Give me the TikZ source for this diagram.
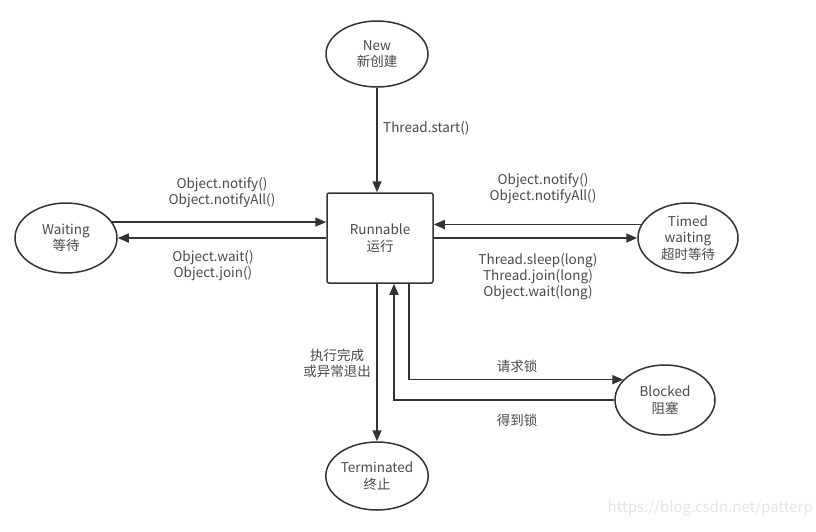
\documentclass[tikz,border=0pt]{standalone}
\usepackage{fontspec}
\setmainfont{Noto Sans CJK SC}
\usetikzlibrary{shapes.geometric,arrows.meta}
\definecolor{ln}{HTML}{333333}
\definecolor{tx}{HTML}{4A4A4A}
\tikzset{
  st/.style={ellipse,draw=ln,line width=1.5pt,inner sep=0pt,align=center,text=tx,font=\fontsize{13.5}{16.5}\selectfont},
  box/.style={rectangle,draw=ln,line width=1.5pt,rounded corners=2pt,inner sep=0pt,align=center,text=tx,font=\fontsize{13.5}{16.5}\selectfont},
  arr/.style={draw=ln,line width=1.6pt,-{Triangle[length=11pt,width=9pt]}},
  lab/.style={text=tx,align=center,inner sep=0pt,font=\fontsize{13.5}{16}\selectfont}
}
\begin{document}
\begin{tikzpicture}[x=1pt,y=-1pt]
\useasboundingbox[fill=white] (0,0) rectangle (816,531);
\node[st,minimum width=102pt,minimum height=66pt] (new) at (377,54) {New\\新创建};
\node[box,minimum width=106pt,minimum height=90pt] (run) at (380,238) {Runnable\\运行};
\node[st,minimum width=102pt,minimum height=70pt] (wait) at (66,238) {Waiting\\等待};
\node[st,minimum width=100pt,minimum height=70pt] (tw) at (688,238) {Timed\\waiting\\超时等待};
\node[st,minimum width=100pt,minimum height=68pt] (term) at (377,476) {Terminated\\终止};
\node[st,minimum width=100pt,minimum height=70pt] (blk) at (665,400) {Blocked\\阻塞};

\draw[arr] (new.south) -- (new.south |- run.north);
\draw[arr] (wait.19.43) -- (wait.19.43 -| run.west);
\draw[arr] (run.west) -- (wait.east);
\draw[arr] (tw.164.36) -- (tw.164.36 -| run.east);
\draw[arr] (run.east) -- (tw.west);
\draw[arr] (term.north |- run.south) -- (term.north);
\draw[arr] ([xshift=29pt]run.south) |- (blk.154.01);
\draw[arr] (blk.west) -| ([xshift=14pt]run.south);

\node[lab,anchor=west] (l1) at (383,128) {Thread.start()};
\node[lab] (l2) at (222,193) {Object.notify()\\Object.notifyAll()};
\node[lab] (l3) at (213,266) {Object.wait()\\Object.join()};
\node[lab] (l4) at (543,189) {Object.notify()\\Object.notifyAll()};
\node[lab] (l5) at (538,277) {Thread.sleep(long)\\Thread.join(long)\\Object.wait(long)};
\node[lab] (l6) at (337,363) {执行完成\\或异常退出};
\node[lab] (l7) at (517,366) {请求锁};
\node[lab] (l8) at (517,420) {得到锁};
\node[anchor=east,text=black!10,inner sep=0pt,font=\fontsize{15}{18}\selectfont] (wm) at (813,508) {https://blog.csdn.net/patterp};
\end{tikzpicture}
\end{document}
